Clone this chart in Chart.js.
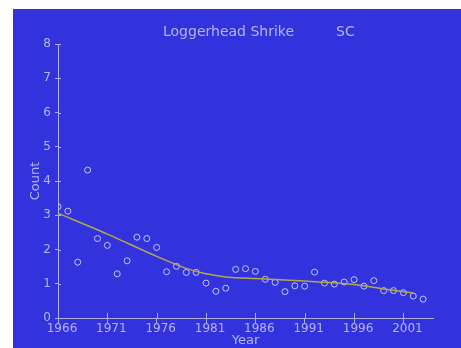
<!DOCTYPE html>
<html><head><meta charset="utf-8">
<script src="https://cdn.jsdelivr.net/npm/chart.js@4/dist/chart.umd.min.js"></script>
<style>
html,body{margin:0;padding:0;background:#fff;width:461px;height:348px;overflow:hidden}
#wrap{position:absolute;left:13px;top:9px;width:448px;height:339px;background:#3333dd}
</style></head><body>
<div id="wrap"><canvas id="c" width="448" height="339"></canvas></div>
<script>
const titleMain = "Loggerhead Shrike";
const titleRegion = "SC";
const xTitle = "Year";
const yTitle = "Count";
const years = [1966,1967,1968,1969,1970,1971,1972,1973,1974,1975,1976,1977,1978,1979,1980,1981,1982,1983,1984,1985,1986,1987,1988,1989,1990,1991,1992,1993,1994,1995,1996,1997,1998,1999,2000,2001,2002,2003];
const counts = [3.25,3.12,1.63,4.32,2.32,2.12,1.29,1.67,2.36,2.32,2.06,1.35,1.51,1.33,1.33,1.02,0.78,0.87,1.42,1.44,1.36,1.13,1.04,0.77,0.94,0.93,1.34,1.02,0.99,1.05,1.12,0.93,1.09,0.80,0.80,0.74,0.64,0.55];
const trendYears = [1966,1971,1976,1979,1981,1983,1986,1989,1992,1996,1999,2002];
const trendValues = [3.06,2.45,1.80,1.45,1.29,1.20,1.15,1.11,1.06,0.98,0.85,0.73];
const xTicks = [1966,1971,1976,1981,1986,1991,1996,2001];
const yTicks = [0,1,2,3,4,5,6,7,8];

const textColor = '#b4b4f4';
const axisColor = '#b0b0e6';
const pointColor = '#c4c4f8';
const trendColor = '#b2aa4a';

const innerTicks = {
  id: 'innerTicks',
  afterDatasetsDraw(chart) {
    const {ctx, scales: {x, y}} = chart;
    ctx.save();
    ctx.strokeStyle = axisColor;
    ctx.lineWidth = 1;
    ctx.beginPath();
    x.ticks.forEach(t => {
      const px = Math.round(x.getPixelForValue(t.value)) + 0.5;
      ctx.moveTo(px, y.bottom); ctx.lineTo(px, y.bottom - 5);
    });
    y.ticks.forEach(t => {
      const py = Math.round(y.getPixelForValue(t.value)) + 0.5;
      ctx.moveTo(x.left, py); ctx.lineTo(x.left + 3, py);
    });
    ctx.stroke();
    ctx.restore();
  }
};
const titlePlugin = {
  id: 'titlePlugin',
  afterDraw(chart) {
    const ctx = chart.ctx;
    ctx.save();
    ctx.fillStyle = textColor;
    ctx.font = '14px "DejaVu Sans"';
    ctx.textBaseline = 'alphabetic';
    ctx.textAlign = 'left';
    ctx.fillText(titleMain, 150, 27);
    ctx.fillText(titleRegion, 323, 27);
    ctx.restore();
  }
};

new Chart(document.getElementById('c'), {
  type: 'scatter',
  data: {
    datasets: [
      {
        type: 'line',
        data: trendYears.map((v, i) => ({x: v, y: trendValues[i]})),
        borderColor: trendColor,
        borderWidth: 1.5,
        pointRadius: 0,
        fill: false,
        tension: 0.3
      },
      {
        data: years.map((v, i) => ({x: v, y: counts[i]})),
        pointStyle: 'circle',
        pointRadius: 3,
        pointBorderWidth: 1,
        pointBorderColor: pointColor,
        pointBackgroundColor: 'rgba(0,0,0,0)',
        showLine: false
      }
    ]
  },
  plugins: [innerTicks, titlePlugin],
  options: {
    responsive: false,
    animation: false,
    devicePixelRatio: 1,
    layout: {padding: {left: 0, top: 35, right: 28, bottom: 0}},
    plugins: {legend: {display: false}, tooltip: {enabled: false}, title: {display: false}},
    scales: {
      x: {
        type: 'linear',
        min: 1966, max: 2004,
        afterFit: s => { s.height = 30; },
        afterBuildTicks: s => { s.ticks = xTicks.map(v => ({value: v})); },
        grid: {display: true, drawOnChartArea: false, drawTicks: true, tickLength: 5, color: axisColor},
        border: {display: true, color: axisColor, width: 1},
        ticks: {color: textColor, font: {family: 'DejaVu Sans', size: 12}, padding: -1, labelOffset: 4, maxRotation: 0, autoSkip: false, callback: v => String(v)},
        title: {display: true, text: xTitle, color: textColor, font: {family: 'DejaVu Sans', size: 13}, padding: {top: 0, bottom: 0}}
      },
      y: {
        type: 'linear',
        min: 0, max: 8,
        afterFit: s => { s.width = 45; },
        afterBuildTicks: s => { s.ticks = yTicks.map(v => ({value: v})); },
        grid: {display: true, drawOnChartArea: false, drawTicks: true, tickLength: 3, color: axisColor},
        border: {display: true, color: axisColor, width: 1},
        ticks: {color: textColor, font: {family: 'DejaVu Sans', size: 12}, padding: 4, callback: v => String(v)},
        title: {display: true, text: yTitle, color: textColor, font: {family: 'DejaVu Sans', size: 13}, padding: {top: 15, bottom: 0}}
      }
    }
  }
});
</script>
</body></html>
